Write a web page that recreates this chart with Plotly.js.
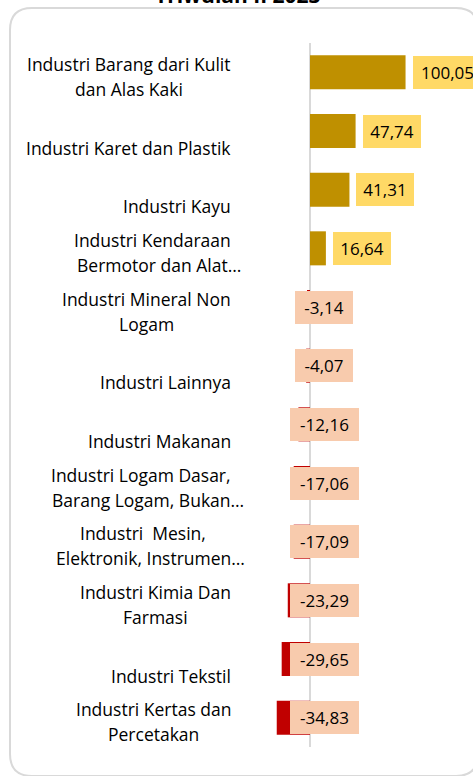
<!DOCTYPE html>
<html>
<head>
<meta charset="utf-8">
<script src="https://cdn.plot.ly/plotly-3.0.1.min.js"></script>
<style>
  html, body { margin: 0; padding: 0; background: #ffffff; }
  #chart { width: 473px; height: 776px; }
</style>
</head>
<body>
<div id="chart"></div>
<script>
// ---- data (top to bottom) ----
const categories = [
  "Industri Barang dari Kulit<br>dan Alas Kaki",
  "Industri Karet dan Plastik",
  "Industri Kayu",
  "Industri Kendaraan<br>Bermotor dan Alat…",
  "Industri Mineral Non<br>Logam",
  "Industri Lainnya",
  "Industri Makanan",
  "Industri Logam Dasar,<br>Barang Logam, Bukan…",
  "Industri  Mesin,<br>Elektronik, Instrumen…",
  "Industri Kimia Dan<br>Farmasi",
  "Industri Tekstil",
  "Industri Kertas dan<br>Percetakan"
];
const values = [100.05, 47.74, 41.31, 16.64, -3.14, -4.07, -12.16, -17.06, -17.09, -23.29, -29.65, -34.83];
const valueLabels = ["100,05", "47,74", "41,31", "16,64", "-3,14", "-4,07", "-12,16", "-17,06", "-17,09", "-23,29", "-29,65", "-34,83"];
const titleText = "Triwulan II 2023";

// ---- styling ----
const W = 473, H = 776;
const M = { l: 0, r: 0, t: 43, b: 29 };
const PH = H - M.t - M.b;
const ZERO_PX = 310, PX_PER_UNIT = 0.955;
const X = px => px / W;
const Y = py => (H - M.b - py) / PH;

const POS_BAR = "#BF9000", NEG_BAR = "#C00000";
const POS_LBL = "#FFD966", NEG_LBL = "#F8CBAD";
const FONT = "Open Sans, Noto Sans, sans-serif";
const CAT_SIZE = 17.5, VAL_SIZE = 17;

// measure text widths for centered multi-line category labels
const cv = document.createElement("canvas").getContext("2d");
cv.font = CAT_SIZE + "px 'Open Sans'";
const tw = s => cv.measureText(s).width;
const core = s => s.replace(/…$/, "");

const annotations = [];
const LABEL_RIGHT = 231, LINE_GAP = 25, LAST_SHIFT = -16.5;
categories.forEach((c, i) => {
  const lines = c.split("<br>");
  const maxW = Math.max(...lines.map(l => tw(core(l))));
  const cx = LABEL_RIGHT - maxW / 2;
  lines.forEach((ln, j) => {
    annotations.push({
      text: ln, xref: "paper", yref: "y", x: X(cx - tw(core(ln)) / 2), y: c,
      xanchor: "left", yanchor: "middle", showarrow: false,
      borderpad: 0, borderwidth: 0,
      yshift: LAST_SHIFT + (lines.length - 1 - j) * LINE_GAP,
      font: { family: FONT, size: CAT_SIZE, color: "#000000" }
    });
  });
});

values.forEach((v, i) => {
  const pos = v > 0;
  const lbl = valueLabels[i];
  annotations.push({
    text: lbl, xref: "x", yref: "y", x: pos ? v : 0, y: categories[i],
    xanchor: pos ? "left" : "center", yanchor: "middle",
    xshift: pos ? 7 : 14,
    showarrow: false, bgcolor: pos ? POS_LBL : NEG_LBL,
    borderpad: 0, borderwidth: 0,
    width: lbl.length * 11 + 3, height: 33, align: "center", valign: "middle",
    font: { family: FONT, size: VAL_SIZE, color: "#000000" }
  });
});

annotations.push({
  text: "<b>" + titleText + "</b>", xref: "paper", yref: "paper",
  x: X(238), y: Y(11), xanchor: "center", yanchor: "bottom", showarrow: false,
  font: { family: FONT, size: 21, color: "#000000" }
});

// rounded card border
const x0 = 10, x1 = 478, y0 = 8, y1 = 776, r = 22;
const P = (px, py) => X(px) + "," + Y(py);
const cardPath = "M" + P(x0 + r, y0) + " L" + P(x1 - r, y0) + " Q" + P(x1, y0) + " " + P(x1, y0 + r) +
  " L" + P(x1, y1 - r) + " Q" + P(x1, y1) + " " + P(x1 - r, y1) +
  " L" + P(x0 + r, y1) + " Q" + P(x0, y1) + " " + P(x0, y1 - r) +
  " L" + P(x0, y0 + r) + " Q" + P(x0, y0) + " " + P(x0 + r, y0) + " Z";

const trace = {
  type: "bar", orientation: "h",
  x: values, y: categories,
  width: 0.58,
  marker: { color: values.map(v => v > 0 ? POS_BAR : NEG_BAR) },
  hoverinfo: "skip"
};

const layout = {
  width: W, height: H, margin: M,
  paper_bgcolor: "#ffffff", plot_bgcolor: "rgba(0,0,0,0)",
  showlegend: false,
  xaxis: {
    range: [-ZERO_PX / PX_PER_UNIT, (W - ZERO_PX) / PX_PER_UNIT],
    showgrid: false, showticklabels: false, ticks: "",
    zeroline: true, zerolinecolor: "#D9D9D9", zerolinewidth: 2, showline: false, fixedrange: true
  },
  yaxis: {
    type: "category", range: [categories.length - 0.5, -0.5],
    showgrid: false, showticklabels: false, ticks: "", zeroline: false, showline: false, fixedrange: true
  },
  shapes: [{
    type: "path", xref: "paper", yref: "paper", path: cardPath,
    line: { color: "#D9D9D9", width: 2 }, fillcolor: "rgba(0,0,0,0)", layer: "below"
  }],
  annotations: annotations
};

Plotly.newPlot("chart", [trace], layout, { displayModeBar: false, staticPlot: true });
</script>
</body>
</html>
